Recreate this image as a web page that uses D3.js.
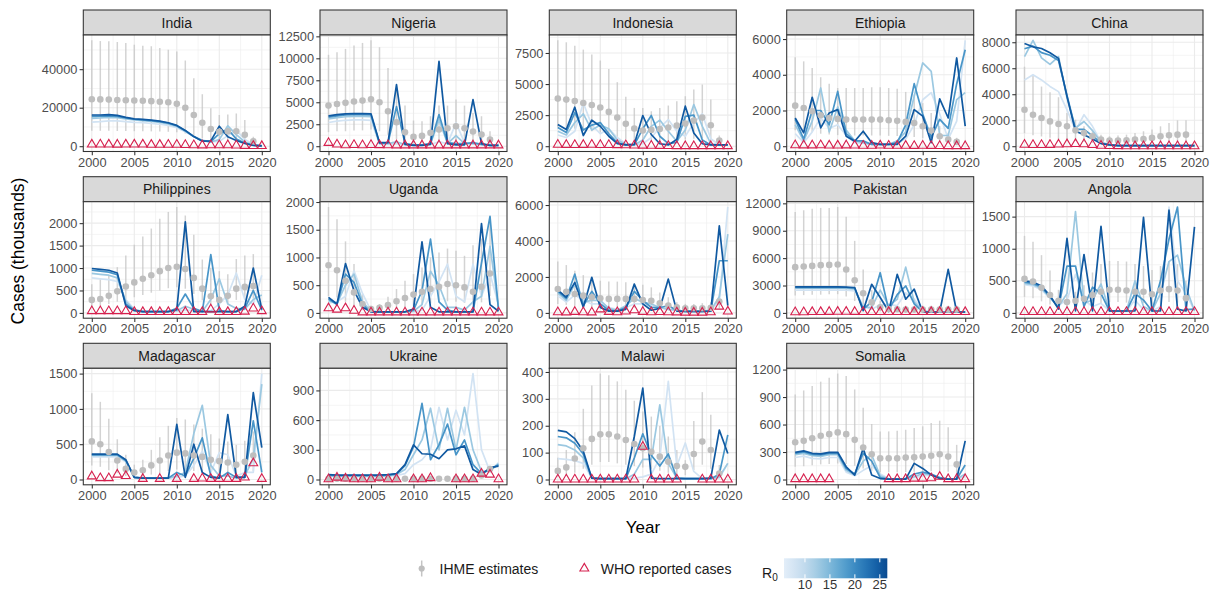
<!DOCTYPE html>
<html>
<head>
<meta charset="utf-8">
<script src="https://cdn.jsdelivr.net/npm/d3@7"></script>
<style>
  body { margin: 0; background: #fff; }
  text { font-family: "Liberation Sans", Arial, sans-serif; }
</style>
</head>
<body>
<svg id="chart" width="1219" height="602"></svg>
<script>
/* ===== data ===== */

const YEARS = [2000, 2001, 2002, 2003, 2004, 2005, 2006, 2007, 2008, 2009, 2010,
               2011, 2012, 2013, 2014, 2015, 2016, 2017, 2018, 2019, 2020];
const IHME_YEARS = YEARS.slice(0, 20);
const X_TICKS = [2000, 2005, 2010, 2015, 2020];

const COUNTRIES = ['India', 'Nigeria', 'Indonesia', 'Ethiopia', 'China',
                   'Philippines', 'Uganda', 'DRC', 'Pakistan', 'Angola',
                   'Madagascar', 'Ukraine', 'Malawi', 'Somalia'];

// R0 value of each model run (one line per run)
const R0_LEVELS = [8, 13, 19, 25];
const R0_TICKS = [10, 15, 20, 25];

const yTicks = {
  India: [0, 20000, 40000],
  Nigeria: [0, 2500, 5000, 7500, 10000, 12500],
  Indonesia: [0, 2500, 5000, 7500],
  Ethiopia: [0, 2000, 4000, 6000],
  China: [0, 2000, 4000, 6000, 8000],
  Philippines: [0, 500, 1000, 1500, 2000],
  Uganda: [0, 500, 1000, 1500, 2000],
  DRC: [0, 2000, 4000, 6000],
  Pakistan: [0, 3000, 6000, 9000, 12000],
  Angola: [0, 500, 1000, 1500],
  Madagascar: [0, 500, 1000, 1500],
  Ukraine: [0, 300, 600, 900],
  Malawi: [0, 100, 200, 300, 400],
  Somalia: [0, 300, 600, 900, 1200]
};

// IHME estimates (thousands), 2000-2019
const ihmeMid = {
  India: [24400,24300,24200,24000,23900,23700,23600,23400,23100,22800,22000,20000,16200,12200,8900,7500,7800,7800,5900,2600],
  Nigeria: [4620,4810,4930,5080,5190,5340,5000,3980,2730,1590,1060,1170,1520,1900,2050,2270,2050,1670,1330,760],
  Indonesia: [3830,3750,3640,3480,3320,3110,2760,2300,1800,1420,1260,1310,1390,1500,1660,1820,2060,2300,1690,460],
  Ethiopia: [2270,2140,1960,1730,1580,1530,1490,1490,1490,1490,1490,1450,1420,1360,1300,1120,880,560,370,240],
  China: [2800,2420,2170,1910,1710,1530,1220,1020,770,510,430,430,460,510,560,640,770,840,890,890],
  Philippines: [290,310,380,480,590,680,760,840,930,1000,1030,980,780,540,370,290,380,540,580,600],
  Uganda: [860,770,580,370,160,70,90,140,210,270,330,380,430,470,520,500,460,380,470,710],
  DRC: [1330,1180,1050,960,870,810,780,780,780,780,720,680,540,410,310,260,260,260,280,630],
  Pakistan: [5010,5080,5150,5230,5260,5300,4760,3570,2160,1150,610,430,400,360,360,360,360,360,360,360],
  Angola: [530,490,390,280,190,170,190,220,280,330,360,360,350,330,330,290,350,370,350,230],
  Madagascar: [540,500,390,270,150,100,130,200,270,340,380,370,340,320,280,260,240,210,250,340],
  Ukraine: [8,8,8,8,8,8,8,8,8,8,8,8,8,8,8,8,8,8,40,105],
  Malawi: [32,45,78,116,151,168,168,160,147,132,116,103,85,66,50,47,95,141,110,22],
  Somalia: [407,422,451,477,495,514,495,433,349,275,231,231,231,239,242,250,260,275,250,165]
};
const ihmeLow = {
  India: [8000,8000,8000,7900,7900,7800,7800,7700,7600,7500,7300,6600,5400,4000,2900,2500,2600,2600,1900,800],
  Nigeria: [1600,1700,1700,1800,1800,1900,1700,1300,800,500,300,350,450,550,600,700,600,500,400,200],
  Indonesia: [1500,1450,1400,1300,1200,1100,950,750,550,400,350,380,400,450,500,550,600,650,450,100],
  Ethiopia: [900,850,800,700,650,620,600,600,600,600,600,580,570,540,520,450,350,220,150,100],
  China: [1000,850,750,650,550,500,400,330,250,170,150,150,160,170,190,220,260,290,300,300],
  Philippines: [150,160,200,250,300,350,400,450,500,550,570,540,420,280,180,140,200,290,310,320],
  Uganda: [300,280,200,120,50,20,30,50,80,100,130,150,170,190,210,200,180,150,190,300],
  DRC: [500,450,400,370,330,310,300,300,290,290,270,250,200,150,110,90,90,90,100,250],
  Pakistan: [1900,1950,2000,2000,2050,2050,1800,1300,700,350,180,120,100,100,100,100,100,100,100,100],
  Angola: [250,230,180,130,90,80,90,100,130,150,170,170,160,150,150,130,160,170,160,100],
  Madagascar: [200,180,130,90,50,30,40,70,90,120,140,130,120,110,100,90,80,70,90,120],
  Ukraine: [2,2,2,2,2,2,2,2,2,2,2,2,2,2,2,2,2,2,20,70],
  Malawi: [10,15,25,40,55,65,65,60,55,50,45,40,33,25,18,16,35,55,40,8],
  Somalia: [140,145,155,165,170,175,170,150,120,95,80,80,80,82,84,86,90,95,86,55]
};
const ihmeHigh = {
  India: [55000,54600,54500,54100,53600,52700,52200,51900,51000,50100,49200,44500,35300,27000,19700,16200,16500,17000,13600,4900],
  Nigeria: [10400,10700,11070,11450,11750,12050,11260,8900,6440,4620,2920,2840,3410,4620,4620,5300,4620,3790,3410,1700],
  Indonesia: [8520,8360,8090,7770,7370,6890,6220,5150,3970,3080,3080,2810,3080,3270,3620,4020,4560,4960,3750,860],
  Ethiopia: [4980,4750,4380,3860,3490,3260,3260,3260,3260,3300,3300,3260,3220,3040,2890,2420,1860,1120,750,470],
  China: [6120,5480,4590,4160,3770,2550,2040,1530,1150,890,770,820,890,1020,1150,1280,1530,1790,1990,1990],
  Philippines: [640,750,820,1020,1280,1520,1700,1880,2100,2250,2360,2170,1740,1190,1000,930,860,1200,1280,1310],
  Uganda: [1910,1690,1290,880,340,130,160,290,430,580,700,820,1000,1090,1160,1120,1030,1220,1340,1650],
  DRC: [2860,2660,2340,2100,1880,1790,1750,1740,1700,1640,1570,1420,1140,870,590,500,500,540,590,960],
  Pakistan: [11060,11240,11420,11500,11500,11600,10530,7890,4760,2490,1330,970,790,790,790,790,790,790,790,790],
  Angola: [1200,1110,900,660,360,280,330,430,630,760,810,810,800,760,730,670,730,810,760,500],
  Madagascar: [1220,1100,860,570,350,210,280,420,600,760,870,850,780,720,640,580,540,490,550,680],
  Ukraine: [15,15,15,15,15,15,15,15,15,15,15,15,15,15,15,15,15,15,60,140],
  Malawi: [81,110,176,263,350,394,388,365,334,293,253,234,199,160,110,72,218,325,241,54],
  Somalia: [928,972,1020,1068,1112,1156,1130,983,782,606,525,525,532,543,561,580,617,642,569,378]
};

// WHO reported cases (thousands), 2000-2020, null = not reported
const whoCases = {
  India: [900,950,900,850,900,900,900,750,750,800,800,650,550,450,550,550,550,400,200,170,100],
  Nigeria: [380,200,120,150,120,150,130,120,100,100,100,100,100,100,100,100,100,100,100,100,100],
  Indonesia: [120,110,100,110,120,100,100,90,80,60,50,40,30,20,15,15,10,10,10,10,10],
  Ethiopia: [60,50,50,60,40,40,50,40,30,30,40,30,25,25,20,30,20,15,10,10,10],
  China: [120,100,100,110,130,150,170,160,100,40,20,10,5,2,2,2,2,2,2,2,2],
  Philippines: [40,40,40,40,40,20,20,20,20,20,20,20,20,20,80,20,20,20,30,100,40],
  Uganda: [84,60,84,40,10,10,10,10,10,10,10,10,10,10,10,10,10,10,10,10,10],
  DRC: [40,30,60,40,30,200,60,40,80,150,60,40,50,40,30,20,20,20,40,350,80],
  Pakistan: [80,80,100,100,120,130,130,120,100,100,100,100,100,100,100,100,100,100,100,100,100],
  Angola: [15,15,15,15,15,15,15,15,15,15,15,15,15,15,15,15,15,15,15,15,15],
  Madagascar: [45,20,20,70,50,null,10,null,10,null,10,null,10,15,10,10,10,10,30,230,10],
  Ukraine: [3,20,10,3,3,3,20,3,3,null,3,3,15,null,null,3,3,3,60,50,3],
  Malawi: [0.5,0.5,0.5,0.5,0.5,0.5,0.5,0.5,0.5,0.5,122,0.5,0.5,0.5,0.5,null,null,0.5,0.5,0.5,0.5],
  Somalia: [5,5,5,5,5,null,null,null,null,null,null,5,5,5,10,10,15,30,5,5,5]
};

// Modelled cases (thousands), 2000-2020, one row per R0 in R0_LEVELS
const modelCases = {
  India: [
    [12500,12800,13200,13200,12800,12400,12200,11800,11400,10800,9600,7500,5000,3200,2300,2500,5500,8300,3500,1000,400],
    [14500,14700,15000,14800,14200,13600,13300,12900,12400,11600,10200,7800,5000,3000,2200,3500,10600,6000,2200,700,300],
    [15500,15600,15800,15500,14700,14000,13700,13300,12800,12000,10600,8000,5000,2800,2400,6500,8800,3800,1600,500,200],
    [16200,16200,16400,16000,15000,14200,13900,13500,13000,12200,10800,8200,5000,2600,2800,10400,4900,3000,1400,400,200]
  ],
  Nigeria: [
    [2700,2850,2950,3000,3000,2950,250,200,300,150,100,100,200,500,300,2650,400,250,150,100,100],
    [3100,3250,3350,3400,3400,3350,300,300,500,200,150,150,250,3000,300,1200,300,300,200,100,100],
    [3300,3450,3550,3580,3580,3550,350,400,4500,300,150,150,300,3600,400,300,300,400,200,100,100],
    [3450,3600,3680,3710,3710,3680,400,400,7000,200,100,100,200,9660,300,150,150,5300,300,100,100]
  ],
  Indonesia: [
    [900,700,1200,3480,1700,1000,1400,700,200,100,200,700,1500,2140,1200,800,1900,2600,600,100,100],
    [1200,900,1900,2600,1300,1700,1400,500,150,100,500,1600,2100,1200,400,1300,3350,1600,200,100,100],
    [1500,1100,2700,1300,1700,1900,1000,300,100,100,1400,2470,800,200,300,2400,2500,500,100,100,100],
    [1740,1340,3140,860,2090,1610,800,210,100,150,2470,940,200,100,540,3220,1070,200,100,100,100]
  ],
  Ethiopia: [
    [700,200,800,1600,1000,1200,600,200,150,100,100,100,200,400,1200,2600,3000,1800,400,1400,5930],
    [1200,300,1400,3260,800,2200,900,300,200,100,100,100,300,800,2800,4660,4190,600,600,2610,3000],
    [1500,400,2000,2000,1200,3070,700,300,300,100,100,100,200,1200,3500,1800,500,1500,1000,3500,5400],
    [1580,750,2740,1030,1860,2050,560,280,840,200,100,100,100,560,2050,1680,200,2650,1580,4940,1120]
  ],
  China: [
    [5100,5500,5100,4600,4200,2800,1200,2420,1530,300,100,50,50,50,50,50,50,50,50,50,50],
    [6900,8150,6800,6300,6900,3700,1400,1900,1200,300,100,50,50,50,50,50,50,50,50,50,50],
    [7500,7700,7200,7000,6600,3900,1300,1300,800,250,100,50,50,50,50,50,50,50,50,50,50],
    [7900,7650,7520,7190,6760,3830,1150,890,560,200,100,50,50,50,50,50,50,50,50,50,50]
  ],
  Philippines: [
    [780,760,740,700,300,80,30,30,30,30,40,60,50,30,50,200,400,890,300,200,840],
    [880,860,840,780,260,70,30,30,30,30,50,150,80,30,300,760,200,100,80,300,400],
    [950,930,910,850,200,60,30,30,30,30,100,420,100,30,1300,50,30,30,100,500,60],
    [990,970,950,890,160,50,30,30,30,30,70,2030,30,30,30,30,30,30,150,1000,80]
  ],
  Uganda: [
    [180,200,300,760,350,40,20,20,20,20,20,50,300,560,880,300,200,880,300,700,150],
    [220,170,500,700,200,30,20,20,20,20,30,150,750,500,100,100,50,200,300,1200,100],
    [250,150,700,550,150,20,20,20,20,20,50,400,1330,200,50,20,20,20,900,1740,50],
    [280,160,890,400,100,20,20,20,20,20,70,1280,100,20,20,20,20,20,1610,150,30]
  ],
  DRC: [
    [950,600,1000,700,500,500,300,200,300,500,500,400,300,200,150,80,80,80,200,600,5890],
    [1100,700,1600,600,700,700,250,150,400,800,600,500,300,200,150,80,80,80,150,900,4380],
    [1200,800,2160,400,1200,500,150,100,300,1200,700,300,300,400,150,80,80,80,100,2900,2900],
    [1270,870,1700,310,1980,300,100,100,200,1600,500,150,250,1880,100,80,80,80,100,4840,400]
  ],
  Pakistan: [
    [2500,2500,2500,2500,2500,2500,2480,2400,800,400,900,900,800,2200,1500,300,100,100,100,100,100],
    [2700,2700,2700,2700,2700,2700,2680,2600,600,600,2500,800,1500,5010,1200,200,100,100,100,100,100],
    [2800,2800,2800,2800,2800,2800,2780,2700,400,1200,4400,300,2000,2950,1000,100,100,100,100,100,100],
    [2850,2850,2850,2850,2850,2850,2820,2780,250,3130,1690,150,4220,1500,2600,100,100,100,4760,100,100]
  ],
  Angola: [
    [440,420,360,230,120,200,600,200,100,150,30,30,30,200,50,30,100,1650,500,300,30],
    [460,440,380,240,100,300,1580,150,200,450,30,30,30,500,100,30,300,800,900,400,30],
    [480,460,400,250,80,730,730,100,400,300,30,30,30,300,200,30,500,1150,1650,50,60],
    [500,480,420,270,60,1160,30,910,30,1350,30,30,30,30,1490,30,30,1600,60,30,1340]
  ],
  Madagascar: [
    [320,320,320,320,250,30,20,20,20,20,30,50,200,400,100,380,350,50,100,100,1500],
    [340,340,340,340,260,30,20,20,20,20,50,100,650,1050,200,50,50,20,50,300,1350],
    [350,350,350,350,270,30,20,20,20,20,100,50,300,590,50,20,100,30,30,830,100],
    [360,360,360,360,280,30,20,20,20,20,780,30,500,100,30,20,920,30,30,1230,450]
  ],
  Ukraine: [
    [35,30,30,30,30,30,30,35,40,60,150,200,300,730,400,700,450,1070,300,80,170],
    [40,35,35,35,35,35,35,40,50,100,250,400,720,300,720,300,730,300,80,90,160],
    [45,40,40,40,40,40,40,45,55,140,330,770,200,350,560,250,400,150,60,100,150],
    [50,45,45,45,45,45,45,50,60,150,350,260,255,210,300,310,340,100,50,120,135]
  ],
  Malawi: [
    [78,75,70,60,5,3,3,3,3,5,10,20,80,365,50,136,30,3,3,5,60],
    [130,125,110,80,5,3,3,3,3,20,75,75,278,60,5,3,3,3,3,10,60],
    [160,155,135,95,5,3,3,3,3,80,170,90,50,95,5,3,3,3,3,20,166],
    [183,177,152,105,5,3,3,3,3,160,340,5,3,3,3,3,3,3,5,184,97]
  ],
  Somalia: [
    [240,255,230,225,240,240,80,40,100,150,60,10,5,5,20,40,50,20,5,5,30],
    [270,285,260,253,270,270,100,50,200,268,40,5,5,5,30,66,50,20,5,5,60],
    [285,300,275,268,285,285,120,60,286,200,20,5,5,5,60,80,60,20,5,5,158],
    [297,312,286,279,297,297,139,48,341,50,10,5,5,5,176,121,50,10,5,5,422]
  ]
};

/* ===== layout ===== */

const svg = d3.select('#chart');
const colLeft = [83.3, 320, 549.3, 786.7, 1016];
const rowTop = [10, 176.7, 343.3];
const panelW = 187, stripH = 25, plotH = 116.5;

const GRID = '#ebebeb', DARK = '#333333', AXIS_TXT = '#4d4d4d';
const IHME_COL = '#c4c4c4', WHO_COL = '#d6204e';

const color = d3.scaleSequential(t => d3.interpolateBlues(0.1 + 0.8 * t))
  .domain([5.8, 26.5]);

const tri = d3.symbol().type(d3.symbolTriangle).size(34);

COUNTRIES.forEach((country, i) => {
  const col = i % 5, row = Math.floor(i / 5);
  const g = svg.append('g')
    .attr('transform', `translate(${colLeft[col]},${rowTop[row]})`);

  // strip
  g.append('rect')
    .attr('width', panelW).attr('height', stripH)
    .attr('fill', '#d9d9d9').attr('stroke', DARK).attr('stroke-width', 1.07);
  g.append('text')
    .attr('x', panelW / 2).attr('y', stripH / 2).attr('dy', '0.36em')
    .attr('text-anchor', 'middle')
    .style('font-size', '14px').style('fill', '#1a1a1a')
    .text(country);

  const p = g.append('g').attr('transform', `translate(0,${stripH})`);

  const x = d3.scaleLinear().domain([1999, 2021]).range([0, panelW]);
  const maxV = d3.max([
    ...ihmeHigh[country],
    ...whoCases[country].filter(v => v != null),
    ...modelCases[country].flat()
  ]);
  const y = d3.scaleLinear().domain([-0.05 * maxV, 1.05 * maxV]).range([plotH, 0]);

  p.append('rect').attr('width', panelW).attr('height', plotH).attr('fill', '#fff');

  // grid: minor then major
  const ticks = yTicks[country];
  const step = ticks[1] - ticks[0];
  const yMinor = [ticks[0] - step / 2, ...ticks.map(t => t + step / 2)]
    .filter(v => v > y.domain()[0] && v < y.domain()[1]);
  const xMinor = [2002.5, 2007.5, 2012.5, 2017.5];

  p.selectAll('.ymin').data(yMinor).join('line')
    .attr('x1', 0).attr('x2', panelW).attr('y1', d => y(d)).attr('y2', d => y(d))
    .attr('stroke', GRID).attr('stroke-width', 0.55);
  p.selectAll('.xmin').data(xMinor).join('line')
    .attr('y1', 0).attr('y2', plotH).attr('x1', d => x(d)).attr('x2', d => x(d))
    .attr('stroke', GRID).attr('stroke-width', 0.55);
  p.selectAll('.ymaj').data(ticks).join('line')
    .attr('x1', 0).attr('x2', panelW).attr('y1', d => y(d)).attr('y2', d => y(d))
    .attr('stroke', GRID).attr('stroke-width', 1.1);
  p.selectAll('.xmaj').data(X_TICKS).join('line')
    .attr('y1', 0).attr('y2', plotH).attr('x1', d => x(d)).attr('x2', d => x(d))
    .attr('stroke', GRID).attr('stroke-width', 1.1);

  // IHME uncertainty bars
  p.append('g').selectAll('line').data(IHME_YEARS).join('line')
    .attr('x1', d => x(d)).attr('x2', d => x(d))
    .attr('y1', (d, j) => y(ihmeLow[country][j]))
    .attr('y2', (d, j) => y(ihmeHigh[country][j]))
    .attr('stroke', IHME_COL).attr('stroke-width', 1.5).attr('stroke-opacity', 0.75);

  // model runs, light to dark
  const line = d3.line()
    .x((d, j) => x(YEARS[j]))
    .y(d => y(d));
  p.append('g').selectAll('path').data(modelCases[country]).join('path')
    .attr('d', line)
    .attr('fill', 'none')
    .attr('stroke', (d, k) => color(R0_LEVELS[k]))
    .attr('stroke-width', 1.7)
    .attr('stroke-linejoin', 'round');

  // IHME point estimates
  p.append('g').selectAll('circle').data(IHME_YEARS).join('circle')
    .attr('cx', d => x(d))
    .attr('cy', (d, j) => y(ihmeMid[country][j]))
    .attr('r', 3.3)
    .attr('fill', '#bebebe');

  // WHO reported
  const who = YEARS.map((yr, j) => ({ yr, v: whoCases[country][j] })).filter(d => d.v != null);
  p.append('g').selectAll('path').data(who).join('path')
    .attr('d', tri)
    .attr('transform', d => `translate(${x(d.yr)},${y(d.v)})`)
    .attr('fill', 'none').attr('stroke', WHO_COL).attr('stroke-width', 1.1);

  // axes
  const yAxis = p.append('g')
    .call(d3.axisLeft(y).tickValues(ticks).tickSize(3.7).tickPadding(2.2).tickFormat(d3.format('d')));
  const xAxis = p.append('g').attr('transform', `translate(0,${plotH})`)
    .call(d3.axisBottom(x).tickValues(X_TICKS).tickSize(3.7).tickPadding(2.4).tickFormat(d3.format('d')));
  [yAxis, xAxis].forEach(a => {
    a.select('.domain').remove();
    a.selectAll('line').attr('stroke', DARK).attr('stroke-width', 1.07);
    a.selectAll('text').style('font-size', '12.8px').style('fill', AXIS_TXT)
      .style('font-family', '"Liberation Sans", Arial, sans-serif');
  });

  // panel border
  p.append('rect').attr('width', panelW).attr('height', plotH)
    .attr('fill', 'none').attr('stroke', DARK).attr('stroke-width', 1.07);
});

/* ===== axis titles ===== */

svg.append('text')
  .attr('x', 643).attr('y', 533)
  .attr('text-anchor', 'middle')
  .style('font-size', '17px').style('fill', '#000')
  .text('Year');

svg.append('text')
  .attr('transform', 'translate(24,251) rotate(-90)')
  .attr('text-anchor', 'middle')
  .style('font-size', '17.5px').style('fill', '#000')
  .text('Cases (thousands)');

/* ===== legend ===== */

const leg = svg.append('g');
leg.append('line')
  .attr('x1', 421.7).attr('x2', 421.7).attr('y1', 560.5).attr('y2', 576.5)
  .attr('stroke', IHME_COL).attr('stroke-width', 1.5);
leg.append('circle').attr('cx', 421.7).attr('cy', 568.5).attr('r', 3.1).attr('fill', '#bebebe');
leg.append('text').attr('x', 439.5).attr('y', 573.5)
  .style('font-size', '14px').style('fill', '#1a1a1a').text('IHME estimates');

leg.append('path').attr('d', tri)
  .attr('transform', 'translate(584.3,568.5)')
  .attr('fill', 'none').attr('stroke', WHO_COL).attr('stroke-width', 1.1);
leg.append('text').attr('x', 600.7).attr('y', 573.5)
  .style('font-size', '14px').style('fill', '#1a1a1a').text('WHO reported cases');

// colour bar
const barX0 = 784, barX1 = 887.3, barY = 558.3, barH = 20;
const r0x = d3.scaleLinear().domain(color.domain()).range([barX0, barX1]);
const defs = svg.append('defs');
const grad = defs.append('linearGradient').attr('id', 'r0grad');
d3.range(0, 1.0001, 0.1).forEach(t => {
  grad.append('stop').attr('offset', t)
    .attr('stop-color', color(color.domain()[0] + t * (color.domain()[1] - color.domain()[0])));
});
leg.append('rect').attr('x', barX0).attr('y', barY)
  .attr('width', barX1 - barX0).attr('height', barH).attr('fill', 'url(#r0grad)');
leg.selectAll('.cbt').data(R0_TICKS).join('g').each(function(d) {
  const gg = d3.select(this);
  gg.append('line').attr('x1', r0x(d)).attr('x2', r0x(d)).attr('y1', barY).attr('y2', barY + 4)
    .attr('stroke', '#fff').attr('stroke-width', 1);
  gg.append('line').attr('x1', r0x(d)).attr('x2', r0x(d)).attr('y1', barY + barH - 4).attr('y2', barY + barH)
    .attr('stroke', '#fff').attr('stroke-width', 1);
  gg.append('text').attr('x', r0x(d)).attr('y', 588.5)
    .attr('text-anchor', 'middle')
    .style('font-size', '13px').style('fill', '#333')
    .text(d);
});
const r0Title = leg.append('text').attr('x', 762).attr('y', 578)
  .style('font-size', '14px').style('fill', '#1a1a1a');
r0Title.append('tspan').text('R');
r0Title.append('tspan').attr('dy', 3).style('font-size', '10px').text('0');
</script>
</body>
</html>
